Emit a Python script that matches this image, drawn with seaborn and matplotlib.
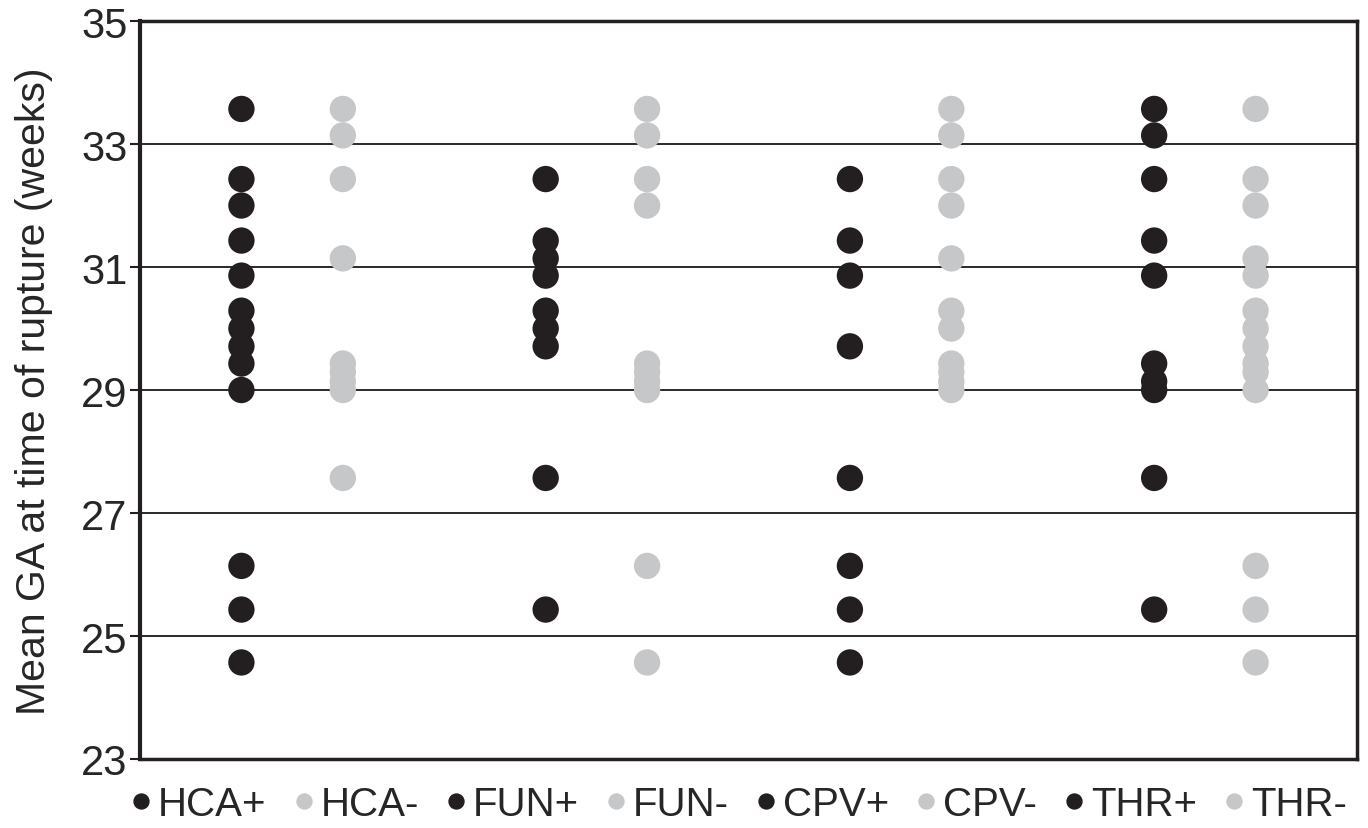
import numpy as np
import pandas as pd
import matplotlib
matplotlib.use("Agg")
import matplotlib.pyplot as plt
import seaborn as sns

# gestational age at rupture (weeks)
hca_pos = [33.57, 32.43, 32.0, 31.43, 30.86, 30.29, 30.0, 29.71, 29.43, 29.0, 26.14, 25.43, 24.57]
hca_neg = [33.57, 33.14, 32.43, 31.14, 29.43, 29.29, 29.14, 29.0, 27.57]
fun_pos = [32.43, 31.43, 31.14, 30.86, 30.29, 30.0, 29.71, 27.57, 25.43]
fun_neg = [33.57, 33.14, 32.43, 32.0, 29.43, 29.29, 29.14, 29.0, 26.14, 24.57]
cpv_pos = [32.43, 31.43, 30.86, 29.71, 27.57, 26.14, 25.43, 24.57]
cpv_neg = [33.57, 33.14, 32.43, 32.0, 31.14, 30.29, 30.0, 29.43, 29.29, 29.14, 29.0]
thr_pos = [33.57, 33.14, 32.43, 31.43, 30.86, 29.43, 29.14, 29.0, 27.57, 25.43]
thr_neg = [33.57, 32.43, 32.0, 31.14, 30.86, 30.29, 30.0, 29.71, 29.43, 29.29, 29.0, 26.14, 25.43, 24.57]

labels = ["HCA+", "HCA-", "FUN+", "FUN-", "CPV+", "CPV-", "THR+", "THR-"]
series = [hca_pos, hca_neg, fun_pos, fun_neg, cpv_pos, cpv_neg, thr_pos, thr_neg]
y_ticks = [23, 25, 27, 29, 31, 33, 35]

BLACK = "#231f20"
GREY = "#c6c7c9"

rows = []
for i, (lab, vals) in enumerate(zip(labels, series)):
    xpos = 1 + 3 * (i // 2) + (i % 2)  # pairs with a gap between groups
    for v in vals:
        rows.append({"group": lab, "x": xpos, "ga": v})
df = pd.DataFrame(rows)

palette = {lab: (BLACK if lab.endswith("+") else GREY) for lab in labels}

sns.set_style("white")
plt.rcParams["font.family"] = ["Liberation Sans", "DejaVu Sans"]

fig = plt.figure(figsize=(13.68, 8.29), dpi=100)
ax = fig.add_axes([140 / 1368, 1 - 760 / 829, 1217 / 1368, 738 / 829])

sns.scatterplot(data=df, x="x", y="ga", hue="group", hue_order=labels,
                palette=palette, s=360, linewidth=0, ax=ax, zorder=3)

ax.set_xlim(0, 12)
ax.set_ylim(23, 35)
ax.set_yticks(y_ticks)
ax.set_xticks([])
ax.set_xlabel("")
ax.set_ylabel("Mean GA at time of rupture (weeks)", fontsize=29.5, labelpad=20)
ax.tick_params(axis="y", labelsize=30, length=7, width=1.5, direction="out",
               left=True, color=BLACK, pad=2)

for y in y_ticks[1:-1]:
    ax.axhline(y, color="#2a2a2a", lw=1.4, zorder=1)

for side in ["left", "bottom", "top", "right"]:
    ax.spines[side].set_color(BLACK)
    ax.spines[side].set_linewidth(2.5)
ax.spines["left"].set_linewidth(3)

sns.move_legend(ax, "upper center", bbox_to_anchor=(0.493, -0.014), ncol=8,
                frameon=False, title=None, fontsize=29, markerscale=0.62,
                handlelength=0.4, handletextpad=0.22, columnspacing=0.72,
                borderaxespad=0)

fig.savefig("out.png", dpi=100)
